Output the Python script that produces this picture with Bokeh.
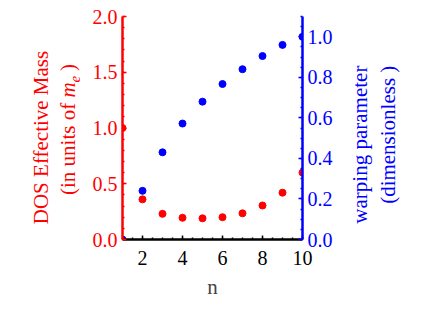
from bokeh.plotting import figure
from bokeh.models import Range1d, LinearAxis, FixedTicker, PrintfTickFormatter
from bokeh.layouts import row
from bokeh.core.properties import value
from bokeh.embed import file_html
from bokeh.resources import INLINE
import math

# ---- data ----
n = [1, 2, 3, 4, 5, 6, 7, 8, 9, 10]
dos_mass = [1.0, 0.36, 0.23, 0.195, 0.19, 0.2, 0.235, 0.305, 0.42, 0.6]
warping = [0.0, 0.24, 0.43, 0.572, 0.68, 0.767, 0.84, 0.905, 0.96, 1.0]
x_ticks = [2, 4, 6, 8, 10]
left_ticks = [0.0, 0.5, 1.0, 1.5, 2.0]
right_ticks = [0.0, 0.2, 0.4, 0.6, 0.8, 1.0]
x_label = "n"
left_line1 = "DOS Effective Mass"
left_line2 = ["(in units of ", "m", "e", ")"]
right_line1 = "warping  parameter"
right_line2 = "(dimensionless   )"

FONT = "Liberation Serif"
FS = "20px"
LFS = "21px"
RED = "#ff0000"
BLUE = "#0000ff"
H = 320
WL = 80
WR = 70
BL = 122 - WL
BR = 45
YSHIFT = 13.5  # row places the side panels this much lower

p = figure(frame_width=180, frame_height=223, min_border_left=BL, min_border_right=BR,
           min_border_top=16, min_border_bottom=H - 16 - 223, output_backend="svg",
           toolbar_location=None, x_range=Range1d(1, 10), y_range=Range1d(0, 2.0))
p.outline_line_color = None
p.xgrid.visible = False
p.ygrid.visible = False
p.extra_y_ranges = {"w": Range1d(0, 1.1)}


def style(ax, color):
    ax.axis_line_color = color
    ax.axis_line_width = 2.5
    ax.major_tick_line_color = color
    ax.minor_tick_line_color = color
    ax.major_tick_line_width = 1.5
    ax.minor_tick_line_width = 1.5
    ax.major_tick_in = 4
    ax.major_tick_out = 0
    ax.minor_tick_in = 2
    ax.minor_tick_out = 0
    ax.major_label_text_color = color
    ax.major_label_text_font = FONT
    ax.major_label_text_font_size = FS
    ax.major_label_standoff = 5


xa = p.xaxis[0]
style(xa, "black")
xa.ticker = FixedTicker(ticks=x_ticks, minor_ticks=[1 + 0.5 * i for i in range(19)])
xa.major_label_standoff = 11
xa.axis_label = x_label
xa.axis_label_text_font = FONT
xa.axis_label_text_font_size = LFS
xa.axis_label_text_font_style = "normal"
xa.axis_label_standoff = 7

ya = p.yaxis[0]
style(ya, RED)
ya.ticker = FixedTicker(ticks=left_ticks, minor_ticks=[0.1 * i for i in range(21)])
ya.formatter = PrintfTickFormatter(format="%.1f")

ra = LinearAxis(y_range_name="w")
style(ra, BLUE)
ra.ticker = FixedTicker(ticks=right_ticks, minor_ticks=[0.05 * i for i in range(23)])
ra.formatter = PrintfTickFormatter(format="%.1f")
p.add_layout(ra, "right")

p.scatter(n, dos_mass, size=7, color=RED)
p.scatter(n, warping, size=7, color=BLUE, y_range_name="w")


def side(width):
    f = figure(frame_width=width, frame_height=H, min_border=0, output_backend="svg",
               toolbar_location=None, x_range=Range1d(0, width), y_range=Range1d(0, H),
               x_axis_location=None, y_axis_location=None)
    f.outline_line_color = None
    f.xgrid.visible = False
    f.ygrid.visible = False
    return f


def txt(f, x0, base_x, y_page, s, color, align="center", style="normal", size=21):
    # Bokeh draws the alphabetic baseline about size/3 px past the anchor
    f.text(x=[base_x - x0 - size / 3.0], y=[H - (y_page - YSHIFT)], text=[s], angle=math.pi / 2,
           text_align=align, text_baseline="alphabetic", text_color=color,
           text_font=value(FONT), text_font_size=value(f"{size}px"), text_font_style=style)


# left labels (page coordinates)
pl = side(WL)
txt(pl, 0, 47.5, 134.5, left_line1, RED)
bx = 74
txt(pl, 0, bx, 192, left_line2[0], RED, align="left")
txt(pl, 0, bx, 94.6, left_line2[1], RED, align="left", style="italic")
txt(pl, 0, bx + 5, 79.4, left_line2[2], RED, align="left", style="italic", size=15)
txt(pl, 0, bx, 68, left_line2[3], RED, align="left")

# right labels
pr = side(WR)
rx0 = WL + BL + 180 + BR
txt(pr, rx0, 366, 139, right_line1, BLUE)
txt(pr, rx0, 394, 126.5, right_line2, BLUE)

open("out.html", "w").write(file_html(row(pl, p, pr), INLINE))
